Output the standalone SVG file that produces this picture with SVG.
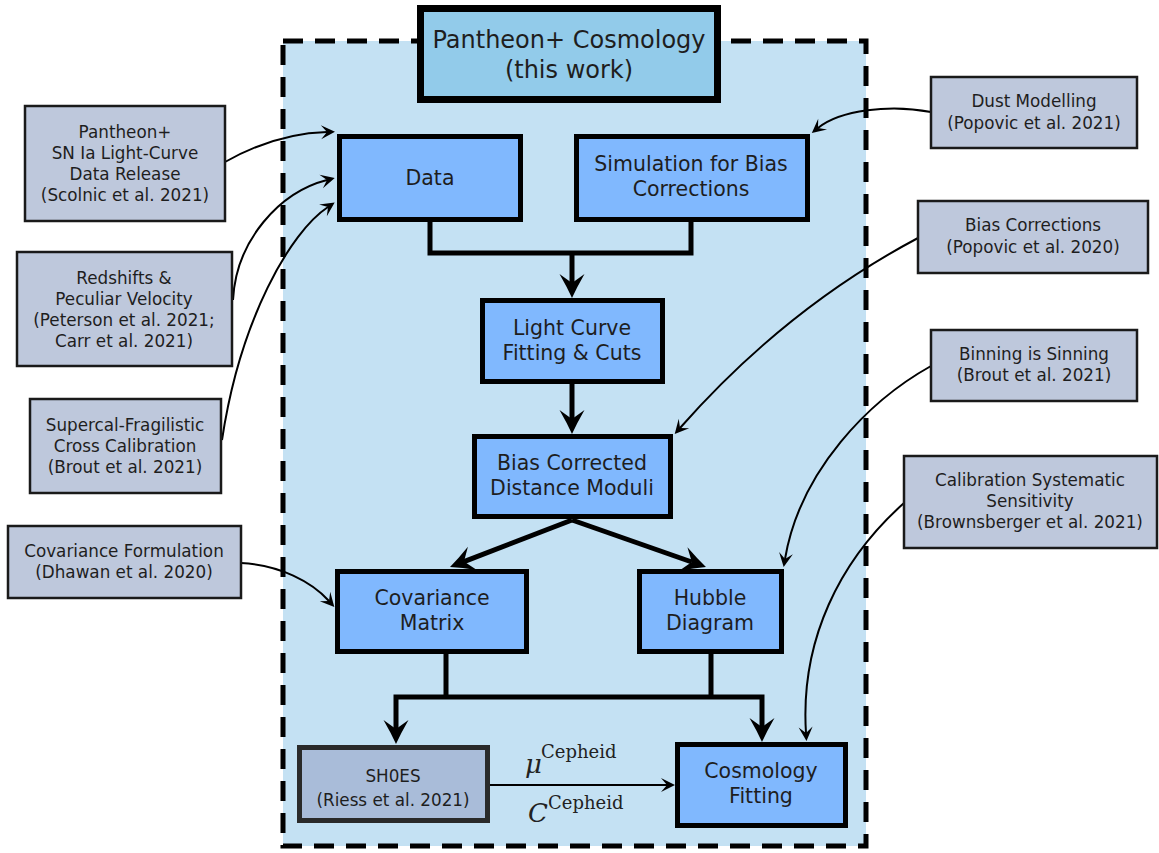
<svg xmlns="http://www.w3.org/2000/svg" width="1159" height="853" viewBox="0 0 1159 853">
<defs>
<style>
.t{font-family:"DejaVu Sans",Verdana,sans-serif;fill:#1e1e1e;text-anchor:middle}
.main{fill:#80b8fe;stroke:#000;stroke-width:5}
.ref{fill:#bec8dc;stroke:#1a1a1a;stroke-width:2.5}
.mt{font-size:20.5px}
.rt{font-size:16.8px}
.thick{fill:none;stroke:#000;stroke-width:5;stroke-linejoin:miter}
.thin{fill:none;stroke:#000;stroke-width:2}
.math{font-family:"DejaVu Serif","Liberation Serif",serif;fill:#222}
</style>
<marker id="ah" markerUnits="userSpaceOnUse" viewBox="-26 -14 28 28" refX="-15" refY="0" markerWidth="28" markerHeight="28" orient="auto-start-reverse">
<path d="M0,0 Q-11,-5 -24,-12.5 L-15,0 L-24,12.5 Q-11,5 0,0 Z" fill="#000"/>
</marker>
<marker id="as" markerUnits="userSpaceOnUse" viewBox="-16 -9 18 18" refX="-8" refY="0" markerWidth="18" markerHeight="18" orient="auto">
<path d="M0,0 L-14,-7 L-8,0 L-14,7 Z" fill="#000"/>
</marker>
</defs>
<rect width="1159" height="853" fill="#fff"/>
<g id="container">
<rect x="283" y="41" width="583" height="805" fill="#c4e1f3" stroke="#000" stroke-width="5" stroke-dasharray="20 12"/>
</g>
<g id="title">
<rect x="420.5" y="8.5" width="297" height="91" fill="#92cbea" stroke="#000" stroke-width="7"/>
<text class="t" x="569" y="48" font-size="24">Pantheon+ Cosmology</text>
<text class="t" x="569" y="78" font-size="24">(this work)</text>
</g>
<g id="connectors">
<path class="thick" d="M430,221 V253 H691 V221"/>
<path class="thick" d="M572,253 V283" marker-end="url(#ah)"/>
<path class="thick" d="M572,383 V419" marker-end="url(#ah)"/>
<path class="thick" d="M572,520 L464,561.6" marker-end="url(#ah)"/>
<path class="thick" d="M572,520 L691.8,562" marker-end="url(#ah)"/>
<path class="thick" d="M446,653 V697 M711,653 V697"/>
<path class="thick" d="M396,729 V697 H762 V727" marker-start="url(#ah)" marker-end="url(#ah)"/>
<path class="thin" d="M489,785 H667" stroke-width="2.5" marker-end="url(#as)"/>
<path class="thin" d="M225,162 C255,145 290,133 327,132" marker-end="url(#as)"/>
<path class="thin" d="M233,300 C236,240 280,192 327,180" marker-end="url(#as)"/>
<path class="thin" d="M222,440 C240,320 290,232 328,207" marker-end="url(#as)"/>
<path class="thin" d="M241,563 C280,565 312,582 329,601" marker-end="url(#as)"/>
<path class="thin" d="M931,112 C890,104 840,110 818,128" marker-end="url(#as)"/>
<path class="thin" d="M918,238 C820,290 740,360 680,428" marker-end="url(#as)"/>
<path class="thin" d="M931,366 C870,400 800,470 785,559" marker-end="url(#as)"/>
<path class="thin" d="M904,503 C840,560 800,640 806,733" marker-end="url(#as)"/>
</g>
<g id="data"><rect class="main" x="339.5" y="136.5" width="181" height="83"/><text class="t mt" x="430" y="185">Data</text></g>
<g id="simulation"><rect class="main" x="576.5" y="136.5" width="231" height="83"/><text class="t mt" x="691" y="171">Simulation for Bias</text><text class="t mt" x="691" y="196">Corrections</text></g>
<g id="lightcurve"><rect class="main" x="482.5" y="300.5" width="180" height="81"/><text class="t mt" x="572" y="335">Light Curve</text><text class="t mt" x="572" y="360">Fitting &amp; Cuts</text></g>
<g id="biascorrected"><rect class="main" x="474.5" y="436.5" width="196" height="80"/><text class="t mt" x="572" y="470">Bias Corrected</text><text class="t mt" x="572" y="495">Distance Moduli</text></g>
<g id="covariance"><rect class="main" x="337.5" y="571.5" width="189" height="80"/><text class="t mt" x="432" y="605">Covariance</text><text class="t mt" x="432" y="630">Matrix</text></g>
<g id="hubble"><rect class="main" x="639.5" y="571.5" width="142" height="80"/><text class="t mt" x="710" y="605">Hubble</text><text class="t mt" x="710" y="630">Diagram</text></g>
<g id="shoes"><rect x="299.5" y="747.5" width="188" height="73" fill="#a9bcd9" stroke="#2a2a2a" stroke-width="5"/><text class="t rt" x="393" y="782">SH0ES</text><text class="t rt" x="393" y="806">(Riess et al. 2021)</text></g>
<g id="cosmology"><rect class="main" x="677.5" y="744.5" width="168" height="81"/><text class="t mt" x="761" y="778">Cosmology</text><text class="t mt" x="761" y="803">Fitting</text></g>
<g id="mu-label"><text class="math" x="525" y="773" font-size="26" font-style="italic">μ</text><text class="math" x="541" y="758" font-size="18">Cepheid</text></g>
<g id="c-label"><text class="math" x="528" y="822" font-size="26" font-style="italic">C</text><text class="math" x="548" y="809" font-size="18">Cepheid</text></g>
<g id="ref-pantheon"><rect class="ref" x="25" y="106" width="200" height="115"/><text class="t rt" x="125" y="138">Pantheon+</text><text class="t rt" x="125" y="159">SN Ia Light-Curve</text><text class="t rt" x="125" y="180">Data Release</text><text class="t rt" x="125" y="201">(Scolnic et al. 2021)</text></g>
<g id="ref-redshifts"><rect class="ref" x="17" y="252" width="215" height="114"/><text class="t rt" x="124" y="284">Redshifts &amp;</text><text class="t rt" x="124" y="305">Peculiar Velocity</text><text class="t rt" x="124" y="326">(Peterson et al. 2021;</text><text class="t rt" x="124" y="347">Carr et al. 2021)</text></g>
<g id="ref-supercal"><rect class="ref" x="30" y="399" width="191" height="94"/><text class="t rt" x="125" y="431">Supercal-Fragilistic</text><text class="t rt" x="125" y="452">Cross Calibration</text><text class="t rt" x="125" y="473">(Brout et al. 2021)</text></g>
<g id="ref-covariance"><rect class="ref" x="8" y="526" width="233" height="72"/><text class="t rt" x="124" y="557">Covariance Formulation</text><text class="t rt" x="124" y="578">(Dhawan et al. 2020)</text></g>
<g id="ref-dust"><rect class="ref" x="931" y="77" width="206" height="71"/><text class="t rt" x="1034" y="107">Dust Modelling</text><text class="t rt" x="1034" y="129">(Popovic et al. 2021)</text></g>
<g id="ref-bias"><rect class="ref" x="918" y="201" width="230" height="72"/><text class="t rt" x="1033" y="231">Bias Corrections</text><text class="t rt" x="1033" y="253">(Popovic et al. 2020)</text></g>
<g id="ref-binning"><rect class="ref" x="931" y="330" width="206" height="71"/><text class="t rt" x="1034" y="360">Binning is Sinning</text><text class="t rt" x="1034" y="381">(Brout et al. 2021)</text></g>
<g id="ref-calibration"><rect class="ref" x="904" y="456" width="253" height="92"/><text class="t rt" x="1030" y="486">Calibration Systematic</text><text class="t rt" x="1030" y="507">Sensitivity</text><text class="t rt" x="1030" y="528">(Brownsberger et al. 2021)</text></g>
</svg>
